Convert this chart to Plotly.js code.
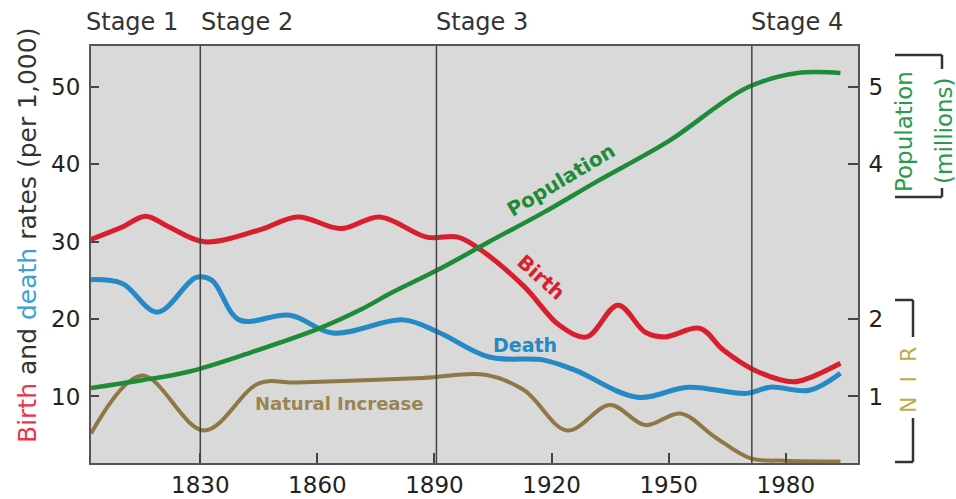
<!DOCTYPE html>
<html>
<head>
<meta charset="utf-8">
<script src="https://cdn.plot.ly/plotly-3.0.1.min.js"></script>
<style>html,body{margin:0;padding:0;background:#fff;}#chart{width:956px;height:499px;}</style>
</head>
<body>
<div id="chart"></div>
<script>
// Birth rate (per 1,000)
var birthYears = [1802,1810,1816,1822,1831,1845,1855,1866,1876,1888,1896,1902,1913,1922,1929,1937,1944,1949,1958,1964,1972,1982,1986,1994];
var birthRate  = [30.3,31.9,33.3,31.9,30.0,31.5,33.2,31.7,33.2,30.6,30.6,28.9,24.2,19.2,17.7,21.8,18.3,17.7,18.8,16.0,13.4,11.9,12.4,14.3];
// Death rate (per 1,000)
var deathYears = [1802,1810,1819,1829,1833,1840,1853,1864,1882,1891,1904,1918,1926,1942,1955,1970,1976,1986,1994];
var deathRate  = [25.1,24.6,20.9,25.4,25.0,19.9,20.5,18.2,19.9,18.3,15.1,14.7,13.4,9.9,11.2,10.4,11.2,10.8,13.0];
// Natural increase (per 1,000)
var niYears = [1802,1815,1831,1845,1855,1887,1903,1913,1924,1935,1944,1953,1962,1971,1980,1994];
var niRate  = [5.2,12.7,5.6,11.7,11.8,12.4,12.8,10.8,5.6,8.9,6.3,7.8,4.7,2.0,1.7,1.6];
// Population (millions)
var popYears = [1802,1815,1827,1843,1860,1871,1879,1891,1904,1918,1932,1950,1970,1983,1994];
var popMillions = [1.11,1.21,1.32,1.57,1.87,2.12,2.34,2.64,3.00,3.38,3.79,4.30,4.99,5.18,5.18];
// Axis ticks and stage boundaries
var xTicks = [1830,1860,1890,1920,1950,1980];
var yTicks = [10,20,30,40,50];
var y2Ticks = [1,2,4,5];
var stageNames = ["Stage 1","Stage 2","Stage 3","Stage 4"];
var stageBounds = [1830,1890.5,1971.3];

var RED = "#d91f2e", BLUE = "#2489c5", GREEN = "#1e8b38", BROWN = "#8d7846";
var FONT = "DejaVu Sans, Arial, sans-serif";

var traces = [
  {x: niYears, y: niRate, mode: "lines", line: {color: BROWN, width: 4, shape: "spline", smoothing: 1}, hoverinfo: "skip", name: "Natural Increase"},
  {x: deathYears, y: deathRate, mode: "lines", line: {color: BLUE, width: 5, shape: "spline", smoothing: 1}, hoverinfo: "skip", name: "Death"},
  {x: birthYears, y: birthRate, mode: "lines", line: {color: RED, width: 5, shape: "spline", smoothing: 1}, hoverinfo: "skip", name: "Birth"},
  {x: popYears, y: popMillions, yaxis: "y2", mode: "lines", line: {color: GREEN, width: 4.5, shape: "spline", smoothing: 1}, hoverinfo: "skip", name: "Population"}
];

function px2paperX(px){ return (px - 91) / 767; }
function px2paperY(py){ return (463 - py) / 417; }

var shapes = [];
stageBounds.forEach(function(b){
  shapes.push({type: "line", xref: "x", yref: "paper", x0: b, x1: b, y0: 0, y1: 1, line: {color: "#444", width: 1.5}});
});
function seg(x0,y0,x1,y1){
  shapes.push({type:"line", xref:"paper", yref:"paper", x0:px2paperX(x0), x1:px2paperX(x1), y0:px2paperY(y0), y1:px2paperY(y1), line:{color:"#333", width:2.5}});
}
// Population bracket
seg(895,55,942,55); seg(942,55,942,69); seg(895,197,942,197); seg(942,197,942,188);
// NIR bracket
seg(895,300,913,300); seg(913,300,913,337); seg(913,418,913,462); seg(895,462,913,462);

var stageX = [84,199,434,749];
var annotations = [];
stageNames.forEach(function(s,i){
  annotations.push({text: s, xref: "paper", yref: "paper", x: px2paperX(stageX[i]), y: px2paperY(22), xanchor: "left", yanchor: "middle", showarrow: false, font: {family: FONT, size: 24, color: "#333"}});
});
function ann(o){ o.showarrow = false; o.xanchor = "center"; o.yanchor = "middle"; annotations.push(o); }
ann({text: "<b>Population</b>", xref: "x", yref: "y", x: 1922.4, y: 38.0, textangle: -31, font: {family: FONT, size: 20, color: GREEN}});
ann({text: "<b>Birth</b>", xref: "x", yref: "y", x: 1917.2, y: 25.4, textangle: 42, font: {family: FONT, size: 20, color: RED}});
ann({text: "<b>Death</b>", xref: "x", yref: "y", x: 1913.2, y: 16.6, font: {family: FONT, size: 19, color: BLUE}});
ann({text: "<b>Natural Increase</b>", xref: "x", yref: "y", x: 1865.6, y: 9.1, font: {family: FONT, size: 18, color: "#9a8550"}});
ann({text: '<span style="color:#e8344e">Birth</span> and <span style="color:#3aa0d6">death</span> rates (per 1,000)', xref: "paper", yref: "paper", x: px2paperX(27), y: px2paperY(236), textangle: -90, font: {family: FONT, size: 25, color: "#333"}});
ann({text: "Population", xref: "paper", yref: "paper", x: px2paperX(904), y: px2paperY(132), textangle: -90, font: {family: FONT, size: 23, color: "#2a9a48"}});
ann({text: "(millions)", xref: "paper", yref: "paper", x: px2paperX(944), y: px2paperY(131), textangle: -90, font: {family: FONT, size: 23, color: "#2a9a48"}});
ann({text: "N&nbsp; I&nbsp; R", xref: "paper", yref: "paper", x: px2paperX(908), y: px2paperY(380), textangle: -90, font: {family: FONT, size: 22, color: "#c2a94a"}});

var axisCommon = {ticks: "inside", tickcolor: "#444", tickwidth: 2, showline: true, linecolor: "#555", linewidth: 2, showgrid: false, zeroline: false, tickfont: {family: FONT, size: 23, color: "#222"}};

var layout = {
  width: 956, height: 499,
  margin: {l: 91, r: 98, t: 46, b: 36},
  paper_bgcolor: "#ffffff", plot_bgcolor: "#d9d9d9",
  showlegend: false,
  xaxis: Object.assign({}, axisCommon, {range: [1802, 1998.5], tickvals: xTicks, ticklen: 10, mirror: true}),
  yaxis: Object.assign({}, axisCommon, {range: [1.4, 55.3], tickvals: yTicks, ticklen: 8, mirror: true, ticklabelstandoff: 4}),
  yaxis2: Object.assign({}, axisCommon, {range: [0.14, 5.53], tickvals: y2Ticks, ticklen: 10, overlaying: "y", side: "right", ticklabelstandoff: 4}),
  shapes: shapes,
  annotations: annotations
};

Plotly.newPlot("chart", traces, layout, {staticPlot: true, displayModeBar: false});
</script>
</body>
</html>
